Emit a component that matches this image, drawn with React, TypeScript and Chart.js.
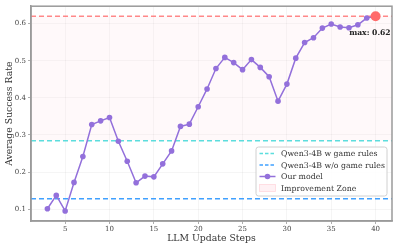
import React, { useEffect, useRef } from "react";
import { Chart, registerables } from "chart.js";
Chart.register(...registerables);

const steps = [3, 4, 5, 6, 7, 8, 9, 10, 11, 12, 13, 14, 15, 16, 17, 18, 19, 20, 21, 22, 23, 24, 25, 26, 27, 28, 29, 30, 31, 32, 33, 34, 35, 36, 37, 38, 39, 40];
const successRate = [0.101, 0.137, 0.095, 0.172, 0.242, 0.328, 0.338, 0.347, 0.283, 0.229, 0.171, 0.189, 0.187, 0.222, 0.257, 0.323, 0.329, 0.376, 0.424, 0.479, 0.509, 0.495, 0.476, 0.503, 0.482, 0.457, 0.391, 0.437, 0.507, 0.549, 0.562, 0.588, 0.599, 0.591, 0.589, 0.597, 0.615, 0.62];
const xTicks = [5, 10, 15, 20, 25, 30, 35, 40];
const yTicks = [0.1, 0.2, 0.3, 0.4, 0.5, 0.6];
const baselineWithRules = 0.284;
const baselineWithoutRules = 0.128;
const maxStep = 40;
const maxValue = 0.62;
const legendLabels = ["Qwen3-4B w game rules", "Qwen3-4B w/o game rules", "Our model", "Improvement Zone"];
const xLabel = "LLM Update Steps";
const yLabel = "Average Success Rate";

const SERIF = "'DejaVu Serif', serif";
const PURPLE = "#9370DB";
const RED = "rgba(255,99,99,0.75)";
const CYAN = "rgba(64,216,216,0.85)";
const BLUE = "rgba(30,144,255,0.85)";
const PINK_FILL = "rgba(255,192,203,0.1)";

const overlay = {
  id: "overlay",
  beforeDatasetsDraw(chart: any) {
    const { ctx, chartArea, scales } = chart;
    const y = scales.y;
    ctx.save();
    const yTop = y.getPixelForValue(maxValue);
    const yBot = y.getPixelForValue(baselineWithRules);
    ctx.fillStyle = PINK_FILL;
    ctx.fillRect(chartArea.left, yTop, chartArea.right - chartArea.left, yBot - yTop);
    const hline = (v: number, color: string) => {
      const py = y.getPixelForValue(v);
      ctx.beginPath();
      ctx.setLineDash([5, 3]);
      ctx.strokeStyle = color;
      ctx.lineWidth = 1.5;
      ctx.moveTo(chartArea.left, py);
      ctx.lineTo(chartArea.right, py);
      ctx.stroke();
    };
    hline(maxValue, RED);
    hline(baselineWithRules, CYAN);
    hline(baselineWithoutRules, BLUE);
    ctx.restore();
  },
  afterDraw(chart: any) {
    const { ctx, chartArea, scales } = chart;
    const x = scales.x, y = scales.y;
    ctx.save();
    ctx.setLineDash([]);
    ctx.strokeStyle = "#9a9a9a";
    ctx.lineWidth = 1.5;
    ctx.strokeRect(chartArea.left, chartArea.top, chartArea.right - chartArea.left, chartArea.bottom - chartArea.top);
    const px = x.getPixelForValue(maxStep);
    const py = y.getPixelForValue(maxValue);
    ctx.font = "bold 7.6px " + SERIF;
    ctx.fillStyle = "#222";
    ctx.textAlign = "right";
    ctx.textBaseline = "middle";
    ctx.fillText("max: " + maxValue.toFixed(2), px + 15, py + 16.5);
    const lw = 131, lh = 49;
    const lx = chartArea.right - 5 - lw;
    const ly = 147;
    ctx.beginPath();
    const r = 2.5;
    ctx.moveTo(lx + r, ly);
    ctx.arcTo(lx + lw, ly, lx + lw, ly + lh, r);
    ctx.arcTo(lx + lw, ly + lh, lx, ly + lh, r);
    ctx.arcTo(lx, ly + lh, lx, ly, r);
    ctx.arcTo(lx, ly, lx + lw, ly, r);
    ctx.closePath();
    ctx.fillStyle = "rgba(255,255,255,0.85)";
    ctx.fill();
    ctx.strokeStyle = "#d0d0d0";
    ctx.lineWidth = 1;
    ctx.stroke();
    const rows = [153.5, 165, 176.5, 188];
    const hx0 = lx + 3.5, hx1 = lx + 19.5;
    ctx.lineWidth = 1.5;
    ctx.setLineDash([3.5, 2]);
    ctx.strokeStyle = CYAN;
    ctx.beginPath(); ctx.moveTo(hx0, rows[0]); ctx.lineTo(hx1, rows[0]); ctx.stroke();
    ctx.strokeStyle = BLUE;
    ctx.beginPath(); ctx.moveTo(hx0, rows[1]); ctx.lineTo(hx1, rows[1]); ctx.stroke();
    ctx.setLineDash([]);
    ctx.strokeStyle = PURPLE;
    ctx.beginPath(); ctx.moveTo(hx0, rows[2]); ctx.lineTo(hx1, rows[2]); ctx.stroke();
    ctx.fillStyle = PURPLE;
    ctx.beginPath(); ctx.arc((hx0 + hx1) / 2, rows[2], 2.8, 0, Math.PI * 2); ctx.fill();
    ctx.fillStyle = "rgba(255,192,203,0.22)";
    ctx.fillRect(hx0, rows[3] - 3.5, hx1 - hx0, 7);
    ctx.strokeStyle = "rgba(255,140,160,0.3)";
    ctx.lineWidth = 0.8;
    ctx.strokeRect(hx0, rows[3] - 3.5, hx1 - hx0, 7);
    ctx.font = "7.8px " + SERIF;
    ctx.fillStyle = "#333";
    ctx.textAlign = "left";
    ctx.textBaseline = "middle";
    legendLabels.forEach((t, i) => ctx.fillText(t, lx + 25, rows[i] + 0.5));
    ctx.restore();
  },
};

export default function App() {
  const ref = useRef<HTMLCanvasElement>(null);
  useEffect(() => {
    document.body.style.margin = "0";
    const chart = new Chart(ref.current!, {
      type: "line",
      data: {
        datasets: [
          {
            label: "Our model",
            data: steps.map((s, i) => ({ x: s, y: successRate[i] })),
            borderColor: PURPLE,
            backgroundColor: PURPLE,
            borderWidth: 1.5,
            pointRadius: 2.8,
            pointBorderWidth: 0,
            pointBackgroundColor: PURPLE,
            tension: 0,
            order: 2,
          },
          {
            label: "max",
            data: [{ x: maxStep, y: maxValue }],
            showLine: false,
            pointRadius: 5,
            pointBorderWidth: 0,
            pointBackgroundColor: "#ff6b6b",
            borderColor: "#ff6b6b",
            order: 1,
          },
        ],
      },
      options: {
        animation: false,
        responsive: false,
        maintainAspectRatio: false,
        layout: { padding: { top: 5, right: 4, left: 0, bottom: 0 } },
        plugins: { legend: { display: false }, tooltip: { enabled: false } },
        scales: {
          x: {
            type: "linear",
            min: 1.15,
            max: 41.85,
            afterBuildTicks: (s: any) => { s.ticks = xTicks.map((v) => ({ value: v })); },
            afterFit: (s: any) => { s.height = 27; },
            grid: { color: "rgba(0,0,0,0.05)", lineWidth: 0.8, tickColor: "#999", tickLength: 3 },
            border: { display: true, color: "#9a9a9a", width: 1.5 },
            ticks: { font: { family: SERIF, size: 7 }, color: "#444", padding: 1, maxRotation: 0, autoSkip: false },
            title: { display: true, text: xLabel, font: { family: SERIF, size: 9.3 }, color: "#333", padding: { top: 0, bottom: 3.5 } },
          },
          y: {
            type: "linear",
            min: 0.068,
            max: 0.647,
            afterBuildTicks: (s: any) => { s.ticks = yTicks.map((v) => ({ value: v })); },
            afterFit: (s: any) => { s.width = 31; },
            grid: { color: "rgba(0,0,0,0.05)", lineWidth: 0.8, tickColor: "#999", tickLength: 3 },
            border: { display: true, color: "#9a9a9a", width: 1.5 },
            ticks: { font: { family: SERIF, size: 7 }, color: "#444", padding: 2, callback: (v: any) => Number(v).toFixed(1) },
            title: { display: true, text: yLabel, font: { family: SERIF, size: 9.3 }, color: "#333", padding: { top: 4, bottom: 0 } },
          },
        },
      },
      plugins: [overlay],
    });
    return () => chart.destroy();
  }, []);
  return <canvas ref={ref} width={397} height={248} style={{ display: "block" }} />;
}
